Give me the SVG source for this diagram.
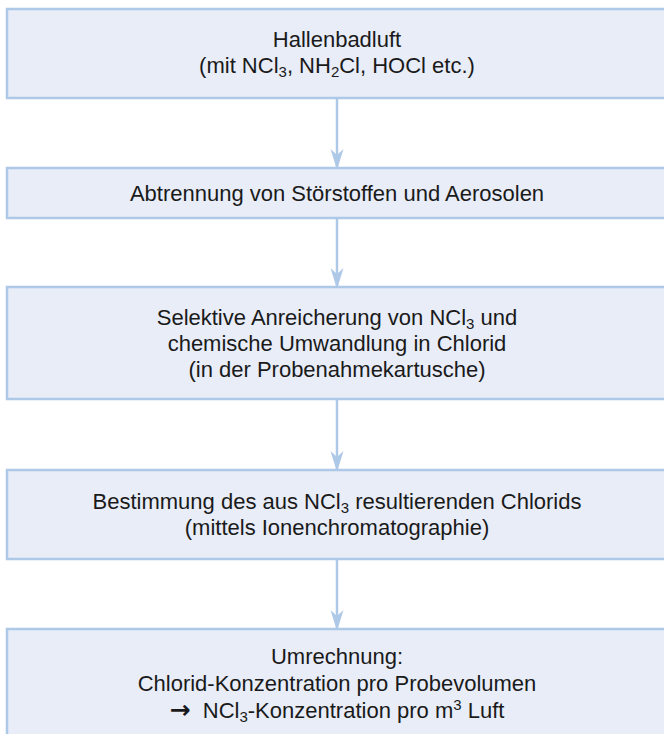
<svg xmlns="http://www.w3.org/2000/svg" width="664" height="734" viewBox="0 0 664 734">
<defs>
<style>
.box{fill:#e8edf8;stroke:#aec8e8;stroke-width:2.5}
.t{font-family:"Liberation Sans",Arial,sans-serif;font-size:22px;fill:#1a1a1a;text-anchor:middle}
.sub{font-size:15px}
.arr{font-family:"DejaVu Sans",sans-serif;font-size:25px;font-weight:bold}
.conn{stroke:#aec8e8;stroke-width:2.5;fill:none}
.head{fill:#aec8e8}
</style>
</defs>
<rect width="664" height="734" fill="#ffffff"/>
<g id="connectors">
<line class="conn" x1="337" y1="98" x2="337" y2="169"/>
<path class="head" d="M337,170 L330.5,149 L337,155 L343.5,149 Z"/>
<line class="conn" x1="337" y1="218" x2="337" y2="288"/>
<path class="head" d="M337,289 L330.5,268 L337,274 L343.5,268 Z"/>
<line class="conn" x1="337" y1="399" x2="337" y2="471"/>
<path class="head" d="M337,472 L330.5,451 L337,457 L343.5,451 Z"/>
<line class="conn" x1="337" y1="559" x2="337" y2="630"/>
<path class="head" d="M337,631 L330.5,610 L337,616 L343.5,610 Z"/>
</g>
<g id="node1">
<rect class="box" x="7" y="9" width="662" height="89"/>
<text class="t" x="337" y="47">Hallenbadluft</text>
<text class="t" x="337" y="73">(mit NCl<tspan class="sub" dy="4">3</tspan><tspan dy="-4">, NH</tspan><tspan class="sub" dy="4">2</tspan><tspan dy="-4">Cl, HOCl etc.)</tspan></text>
</g>
<g id="node2">
<rect class="box" x="7" y="168" width="662" height="50"/>
<text class="t" x="337" y="201">Abtrennung von Störstoffen und Aerosolen</text>
</g>
<g id="node3">
<rect class="box" x="7" y="287" width="662" height="112"/>
<text class="t" x="337" y="325">Selektive Anreicherung von NCl<tspan class="sub" dy="4">3</tspan><tspan dy="-4"> und</tspan></text>
<text class="t" x="337" y="351">chemische Umwandlung in Chlorid</text>
<text class="t" x="337" y="377">(in der Probenahmekartusche)</text>
</g>
<g id="node4">
<rect class="box" x="7" y="470" width="662" height="89"/>
<text class="t" x="337" y="509">Bestimmung des aus NCl<tspan class="sub" dy="4">3</tspan><tspan dy="-4"> resultierenden Chlorids</tspan></text>
<text class="t" x="337" y="535">(mittels Ionenchromatographie)</text>
</g>
<g id="node5">
<rect class="box" x="7" y="629" width="662" height="112"/>
<text class="t" x="337" y="664">Umrechnung:</text>
<text class="t" x="337" y="691">Chlorid-Konzentration pro Probevolumen</text>
<text class="t" x="337" y="718" xml:space="preserve"><tspan class="arr">→</tspan>  NCl<tspan class="sub" dy="4">3</tspan><tspan dy="-4">-Konzentration pro m</tspan><tspan class="sub" dy="-8">3</tspan><tspan dy="8"> Luft</tspan></text>
</g>
</svg>
